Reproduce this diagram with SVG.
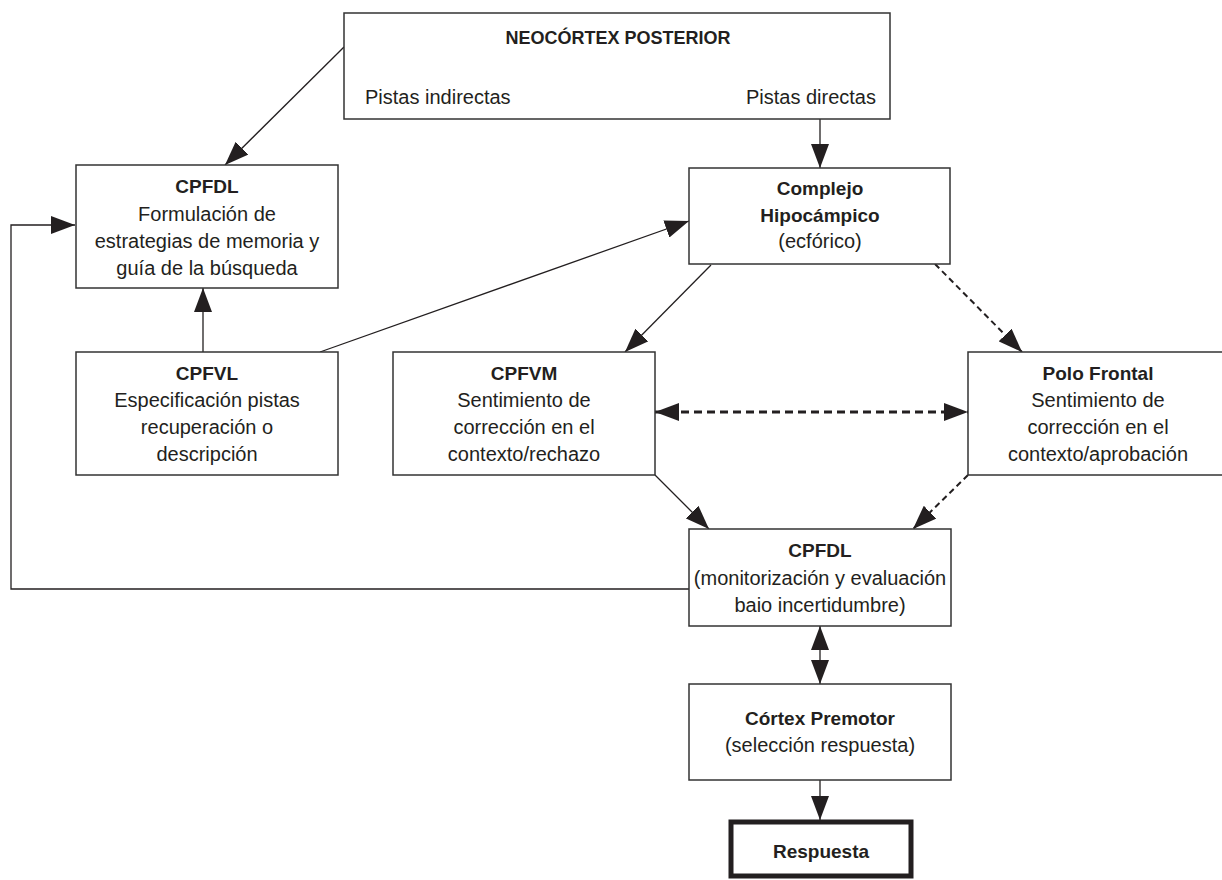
<svg xmlns="http://www.w3.org/2000/svg" width="1222" height="880" viewBox="0 0 1222 880">
<defs>
<marker id="ah" viewBox="0 0 24 18" refX="24" refY="9" markerWidth="24" markerHeight="18" markerUnits="userSpaceOnUse" orient="auto-start-reverse">
<path d="M0,0 L24,9 L0,18 z" fill="#231f20"/>
</marker>
<style>
.box{fill:#fff;stroke:#333;stroke-width:1.5}
.thick{fill:#fff;stroke:#231f20;stroke-width:5}
.t{font-family:"Liberation Sans",Arial,sans-serif;font-size:20px;fill:#231f20;text-anchor:middle}
.b{font-weight:bold;font-size:19px}
.ln{fill:none;stroke:#231f20;stroke-width:1.3}
.ds{fill:none;stroke:#231f20;stroke-width:2;stroke-dasharray:6 4}
.ds2{fill:none;stroke:#231f20;stroke-width:2.8;stroke-dasharray:8 5}
</style>
</defs>
<rect width="1222" height="880" fill="#fff"/>
<g id="connectors">
<line class="ln" x1="344" y1="47" x2="225" y2="165" marker-end="url(#ah)"/>
<line class="ln" x1="820" y1="119" x2="820" y2="168" marker-end="url(#ah)"/>
<line class="ln" x1="320" y1="352" x2="689" y2="221" marker-end="url(#ah)"/>
<line class="ln" x1="203" y1="352" x2="203" y2="288" marker-end="url(#ah)"/>
<line class="ln" x1="711" y1="265" x2="625" y2="352" marker-end="url(#ah)"/>
<line class="ds" x1="935" y1="264" x2="1022" y2="352" marker-end="url(#ah)"/>
<line class="ds2" x1="655" y1="412" x2="968" y2="412" marker-start="url(#ah)" marker-end="url(#ah)"/>
<line class="ln" x1="655" y1="475" x2="709" y2="529" marker-end="url(#ah)"/>
<line class="ds" x1="968" y1="475" x2="913" y2="529" marker-end="url(#ah)"/>
<polyline class="ln" points="689,589 11,589 11,225 75,225" marker-end="url(#ah)"/>
<line class="ln" x1="820" y1="626" x2="820" y2="684" marker-start="url(#ah)" marker-end="url(#ah)"/>
<line class="ln" x1="820" y1="780" x2="820" y2="820" marker-end="url(#ah)"/>
</g>
<g id="neocortex">
<rect class="box" x="344" y="13" width="546" height="106"/>
<text class="t b" x="618" y="44" style="font-size:18px">NEOCÓRTEX POSTERIOR</text>
<text class="t" x="365" y="104" style="text-anchor:start">Pistas indirectas</text>
<text class="t" x="876" y="104" style="text-anchor:end">Pistas directas</text>
</g>
<g id="cpfdl1">
<rect class="box" x="76" y="165" width="262" height="123"/>
<text class="t b" x="207" y="193">CPFDL</text>
<text class="t" x="207" y="221">Formulación de</text>
<text class="t" x="207" y="248">estrategias de memoria y</text>
<text class="t" x="207" y="275">guía de la búsqueda</text>
</g>
<g id="complejo">
<rect class="box" x="689" y="168" width="261" height="96"/>
<text class="t b" x="820" y="195">Complejo</text>
<text class="t b" x="820" y="222">Hipocámpico</text>
<text class="t" x="820" y="248">(ecfórico)</text>
</g>
<g id="cpfvl">
<rect class="box" x="76" y="352" width="262" height="123"/>
<text class="t b" x="207" y="380">CPFVL</text>
<text class="t" x="207" y="407">Especificación pistas</text>
<text class="t" x="207" y="434">recuperación o</text>
<text class="t" x="207" y="461">descripción</text>
</g>
<g id="cpfvm">
<rect class="box" x="393" y="352" width="262" height="123"/>
<text class="t b" x="524" y="380">CPFVM</text>
<text class="t" x="524" y="407">Sentimiento de</text>
<text class="t" x="524" y="434">corrección en el</text>
<text class="t" x="524" y="461">contexto/rechazo</text>
</g>
<g id="polo">
<rect class="box" x="968" y="352" width="262" height="123"/>
<text class="t b" x="1098" y="380">Polo Frontal</text>
<text class="t" x="1098" y="407">Sentimiento de</text>
<text class="t" x="1098" y="434">corrección en el</text>
<text class="t" x="1098" y="461">contexto/aprobación</text>
</g>
<g id="cpfdl2">
<rect class="box" x="689" y="529" width="262" height="97"/>
<text class="t b" x="820" y="557">CPFDL</text>
<text class="t" x="820" y="585">(monitorización y evaluación</text>
<text class="t" x="820" y="612">baio incertidumbre)</text>
</g>
<g id="premotor">
<rect class="box" x="689" y="684" width="262" height="96"/>
<text class="t b" x="820" y="725">Córtex Premotor</text>
<text class="t" x="820" y="752">(selección respuesta)</text>
</g>
<g id="respuesta">
<rect class="thick" x="731" y="822" width="180" height="54"/>
<text class="t b" x="821" y="858">Respuesta</text>
</g>
</svg>
